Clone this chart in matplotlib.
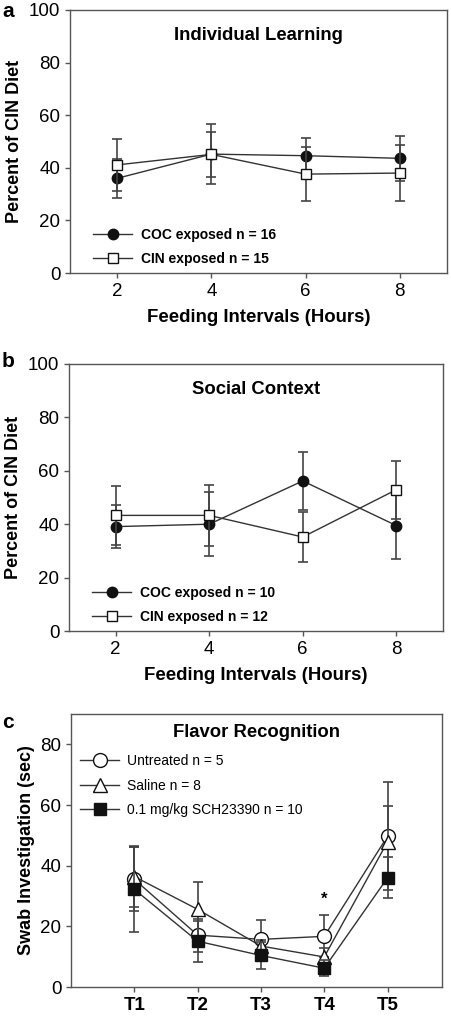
import numpy as np
import matplotlib.pyplot as plt

plt.rcParams['font.family'] = ['Liberation Sans', 'DejaVu Sans']

# Panel a - Individual Learning
hours = [2, 4, 6, 8]
a_coc = [36.0, 45.2, 44.6, 43.6]
a_coc_err = [7.5, 11.3, 6.8, 8.6]
a_cin = [41.1, 45.1, 37.6, 38.0]
a_cin_err = [10.0, 8.6, 10.2, 10.6]

# Panel b - Social Context
b_coc = [39.1, 40.0, 56.2, 39.5]
b_coc_err = [8.1, 12.0, 10.8, 12.5]
b_cin = [43.3, 43.3, 35.2, 52.9]
b_cin_err = [11.0, 11.3, 9.5, 10.9]

# Panel c - Flavor Recognition
trials = ['T1', 'T2', 'T3', 'T4', 'T5']
c_untreated = [35.5, 17.1, 15.7, 16.7, 49.7]
c_untreated_err = [10.5, 5.4, 6.4, 6.9, 17.8]
c_saline = [36.4, 25.6, 13.5, 9.9, 47.9]
c_saline_err = [10.0, 9.0, 2.0, 3.0, 11.9]
c_sch = [32.2, 15.1, 10.4, 6.2, 36.0]
c_sch_err = [14.0, 6.8, 4.4, 2.7, 6.8]

LC = '#333333'
W, H = 452, 1021
fig = plt.figure(figsize=(W / 100, H / 100), dpi=100)


def box(l, r, t, b):
    return [l / W, 1 - b / H, (r - l) / W, (b - t) / H]


def style(ax):
    for s in ax.spines.values():
        s.set_color('#555555')
        s.set_linewidth(1.0)
    ax.tick_params(axis='both', direction='out', length=3.5, width=1,
                   color='#555555', labelsize=13.5, top=False, right=False)


def series(ax, x, y, err, marker, face, ms, label):
    # error bars first, then the line with markers (used for the legend)
    ax.errorbar(x, y, yerr=err, fmt='none', ecolor='#444444',
                elinewidth=1.2, capsize=3.5, capthick=1.2)
    ax.plot(x, y, color=LC, lw=1.0, marker=marker, ms=ms, mfc=face,
            mec='#111111', mew=1.0, label=label)


def hours_panel(ax, coc, coc_err, cin, cin_err, title, n1, n2):
    series(ax, hours, coc, coc_err, 'o', '#111111', 7.5, f'COC exposed n = {n1}')
    series(ax, hours, cin, cin_err, 's', 'white', 7, f'CIN exposed n = {n2}')
    ax.set_xlim(1, 9)
    ax.set_ylim(0, 100)
    ax.set_xticks(hours)
    ax.set_yticks([0, 20, 40, 60, 80, 100])
    ax.set_ylabel('Percent of CIN Diet', fontsize=13, fontweight='bold')
    ax.set_xlabel('Feeding Intervals (Hours)', fontsize=13.4, fontweight='bold', labelpad=7)
    ax.text(0.5, 0.935, title, transform=ax.transAxes, ha='center', va='top',
            fontsize=13.3, fontweight='bold')
    style(ax)
    ax.legend(loc='lower left', bbox_to_anchor=(0.04, -0.005), frameon=False,
              handlelength=2.8, prop={'size': 10, 'weight': 'bold'},
              labelspacing=0.75, borderaxespad=0.2, handletextpad=0.6)


ax1 = fig.add_axes(box(70, 447, 10, 273))
hours_panel(ax1, a_coc, a_coc_err, a_cin, a_cin_err, 'Individual Learning', 16, 15)

ax2 = fig.add_axes(box(69, 443, 364, 631))
hours_panel(ax2, b_coc, b_coc_err, b_cin, b_cin_err, 'Social Context', 10, 12)

ax3 = fig.add_axes(box(71, 442, 714, 987))
xc = np.arange(1, len(trials) + 1)
series(ax3, xc, c_untreated, c_untreated_err, 'o', 'white', 10, 'Untreated n = 5')
series(ax3, xc, c_saline, c_saline_err, '^', 'white', 10, 'Saline n = 8')
series(ax3, xc, c_sch, c_sch_err, 's', '#111111', 9, '0.1 mg/kg SCH23390 n = 10')
ax3.text(4, 29.0, '*', ha='center', va='center', fontsize=12, fontweight='bold')
ax3.set_xlim(0, 5.86)
ax3.set_ylim(0, 90)
ax3.set_xticks(xc)
ax3.set_xticklabels(trials, fontweight='bold')
ax3.set_yticks([0, 20, 40, 60, 80])
ax3.set_ylabel('Swab Investigation (sec)', fontsize=13, fontweight='bold')
ax3.text(0.5, 0.965, 'Flavor Recognition', transform=ax3.transAxes, ha='center',
         va='top', fontsize=13.3, fontweight='bold')
style(ax3)
ax3.legend(loc='upper left', bbox_to_anchor=(-0.005, 0.893), frameon=False,
           handlelength=2.8, prop={'size': 10}, labelspacing=0.75,
           borderaxespad=0.4, handletextpad=0.6)

fig.text(2 / W, 1 - 2 / H, 'a', fontsize=15, fontweight='bold', va='top')
fig.text(2 / W, 1 - 352 / H, 'b', fontsize=15, fontweight='bold', va='top')
fig.text(2 / W, 1 - 713 / H, 'c', fontsize=15, fontweight='bold', va='top')

fig.savefig('out.png', dpi=100)
